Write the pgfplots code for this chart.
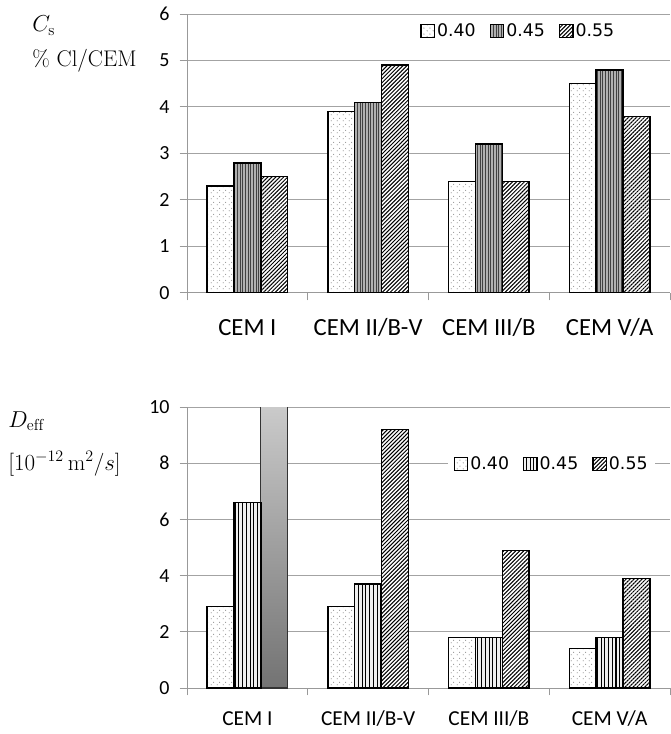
\documentclass[border=0pt]{standalone}
\usepackage{fontspec}
\usepackage{pgfplots}
\usepackage{pgfplotstable}
\pgfplotsset{compat=1.18}
\usetikzlibrary{patterns,patterns.meta}
\newfontfamily\carlito{Carlito}
\newfontfamily\dejavu{DejaVu Sans}
\definecolor{gridc}{gray}{0.64}
\definecolor{axc}{gray}{0.6}

\pgfplotstableread{
x  a40  a45  a55
0  2.3  2.8  2.5
1  3.9  4.1  4.9
2  2.4  3.2  2.4
3  4.5  4.8  3.8
}\topdata
\pgfplotstableread{
x  a40  a45  a55
0  2.9  6.6  nan
1  2.9  3.7  9.2
2  1.8  1.8  4.9
3  1.4  1.8  3.9
}\botdata

\tikzdeclarepattern{
  name=sparsedots,
  type=uncolored,
  bounding box={(0pt,0pt) and (4.5pt,4.5pt)},
  tile size={(4.5pt,4.5pt)},
  code={
    \fill (1pt,1pt) circle (0.42pt);
    \fill (3.25pt,3.25pt) circle (0.42pt);
  }
}

\pgfplotsset{
  sq/.style={legend image code/.code={\draw[##1] (0pt,-4.8pt) rectangle (10pt,4.8pt);}},
  b40/.style={ybar, bar width=0.222, bar shift=-0.222},
  b45/.style={ybar, bar width=0.222, bar shift=0},
  b55/.style={ybar, bar width=0.222, bar shift=0.222},
  outl/.style={draw=black, line width=1.1pt, fill=none, forget plot},
  s40/.style={b40, draw=black, line width=1pt, fill=none,
     preaction={fill=white}, preaction={pattern=sparsedots, pattern color=black!65}, sq},
  s45top/.style={b45, draw=black, line width=1pt, fill=none,
     preaction={fill=gray!62},
     preaction={pattern={Lines[angle=90,distance=2pt,line width=0.7pt]}, pattern color=black!75}, sq},
  s45bot/.style={b45, draw=black, line width=1pt, fill=none,
     preaction={fill=gray!12},
     preaction={pattern={Lines[angle=90,distance=2.8pt,line width=0.8pt]}, pattern color=black}, sq},
  s55/.style={b55, draw=black, line width=1pt, fill=none,
     preaction={fill=white},
     preaction={pattern={Lines[angle=45,distance=2.1pt,line width=0.75pt]}, pattern color=black}, sq},
  base/.style={
    scale only axis, width=362.25pt,
    xmin=-0.5, xmax=3.5, ymin=0,
    axis x line*=bottom, axis y line*=left,
    axis line style={axc, line width=0.75pt},
    ymajorgrids, grid style={gridc, line width=0.75pt},
    xtick={-0.5,0.5,1.5,2.5,3.5}, xticklabels={},
    extra x ticks={0,1,2,3},
    extra x tick labels={CEM I, CEM II/B-V, CEM III/B, CEM V/A},
    extra x tick style={grid=none, major tick length=0pt, tick style={draw=none}},
    tick align=outside,
    major tick length=5.5pt,
    x tick style={axc, line width=0.75pt},
    y tick style={axc, line width=0.75pt},
    /pgf/number format/assume math mode=true,
    yticklabel style={font=\carlito\fontsize{15}{15}\selectfont, xshift=-4pt},
    legend style={draw=none, fill=white, font=\dejavu\fontsize{13}{13}\selectfont,
       legend columns=3, anchor=center, inner xsep=4pt, inner ysep=2pt,
       /tikz/every even column/.append style={column sep=9pt},
       nodes={inner sep=1.5pt}},
    legend cell align=left,
  }
}

\begin{document}
\begin{tikzpicture}
\begin{axis}[base, height=209.25pt, ymax=6, ytick={0,1,...,6},
  xticklabel style={font=\carlito\fontsize{18.5}{18.5}\selectfont, anchor=base, yshift=-32.25pt},
  legend style={at={(0.686,0.939)}}]
\addplot[s40] table[x=x,y=a40] {\topdata};
\addplot[s45top] table[x=x,y=a45] {\topdata};
\addplot[s55] table[x=x,y=a55] {\topdata};
\addplot[b40,outl] table[x=x,y=a40] {\topdata};
\addplot[b45,outl] table[x=x,y=a45] {\topdata};
\addplot[b55,outl] table[x=x,y=a55] {\topdata};
\legend{0.40,0.45,0.55}
\end{axis}

\begin{axis}[base, at={(0pt,-296.25pt)}, height=210.75pt, ymax=10, ytick={0,2,...,10},
  xticklabel style={font=\carlito\fontsize{16}{16}\selectfont, anchor=base, yshift=-27.75pt},
  legend style={at={(0.755,0.797)}}]
\addplot[s40] table[x=x,y=a40] {\botdata};
\addplot[s45bot] table[x=x,y=a45] {\botdata};
\addplot[s55] table[x=x,y=a55] {\botdata};
\addplot[b55, draw=black!80, line width=1pt,
  top color=gray!38, bottom color=black!55, forget plot] coordinates {(0,10.5)};
\addplot[b40,outl] table[x=x,y=a40] {\botdata};
\addplot[b45,outl] table[x=x,y=a45] {\botdata};
\addplot[b55,outl] table[x=x,y=a55] {\botdata};
\legend{0.40,0.45,0.55}
\end{axis}

\begin{scope}[every node/.style={anchor=base west, inner sep=0pt, font=\fontsize{17}{17}\selectfont}]
\node at (-116.25pt,195.75pt) {$C_{\mathrm{s}}$};
\node at (-116.25pt,169.5pt) {\% Cl$/$CEM};
\node at (-134.25pt,-100.5pt) {$D_{\mathrm{eff}}$};
\node at (-134.25pt,-132.75pt) {$[10^{-12}\,\mathrm{m}^2\big/s]$};
\end{scope}

\pgfresetboundingbox
\path[use as bounding box] (-140.25pt,-330.75pt) rectangle (362.25pt,219.75pt);
\end{tikzpicture}
\end{document}
